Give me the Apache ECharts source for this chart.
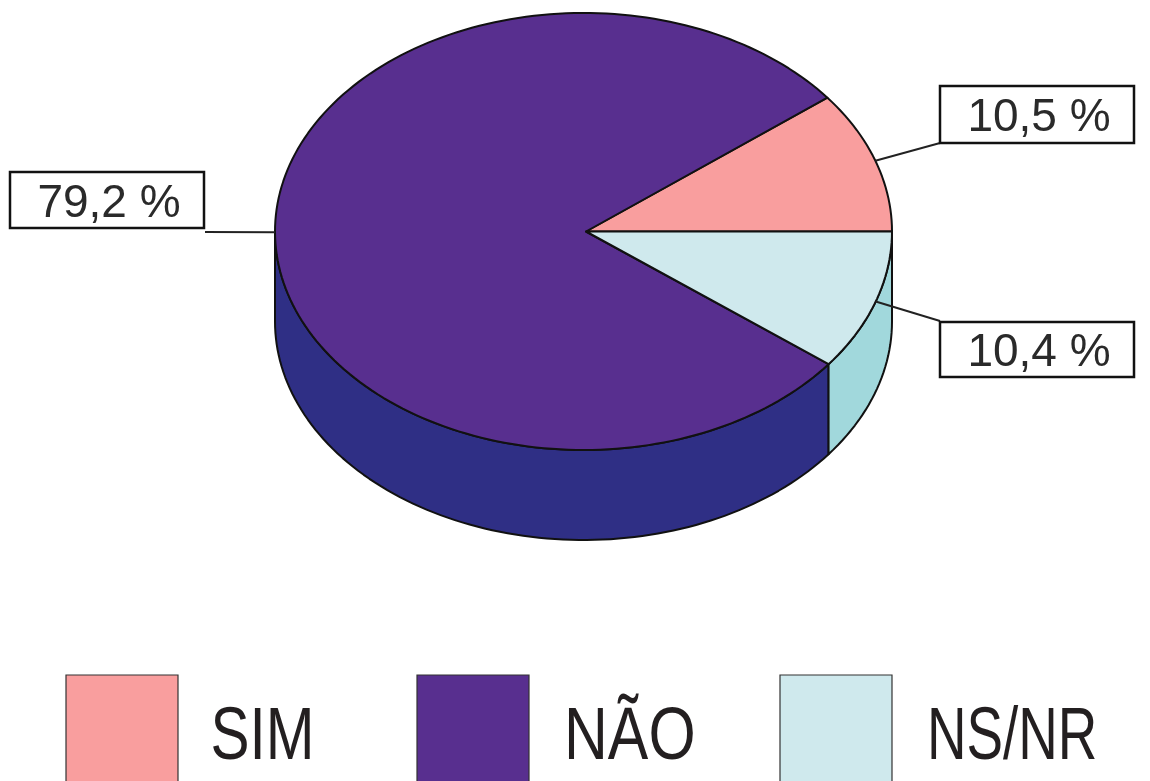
<!DOCTYPE html>
<html><head><meta charset="utf-8">
<style>html,body{margin:0;padding:0;background:#fff}#c{width:1150px;height:781px}</style>
<script src="https://cdn.jsdelivr.net/npm/echarts@6/dist/echarts.min.js"></script>
</head><body><div id="c"></div>
<script>
const categories = ['SIM', 'NÃO', 'NS/NR'];
const values = [10.5, 79.2, 10.4];
const valueLabels = ['10,5 %', '79,2 %', '10,4 %'];
const topColors = ['#F99E9E', '#582F8F', '#CFE9ED'];
const sideColors = ['#E88888', '#2F2F85', '#A1D8DC'];

const pie = {cx: 583.5, cy: 231.5, rx: 308.5, ry: 218.5, depth: 90, apexX: 586};
const boxes = [
  {x: 940, y: 86, w: 194, h: 57, lx: 940, ly: 143},
  {x: 10, y: 172, w: 194, h: 56, lx: 205, ly: 232},
  {x: 940, y: 322, w: 194, h: 55, lx: 940, ly: 321}
];
const legendKeys = [
  {x: 66, tx: 210.5, sx: 0.78},
  {x: 417, tx: 564, sx: 0.81},
  {x: 780, tx: 927, sx: 0.73}
];
const total = values.reduce((a, b) => a + b, 0);
const pt = (deg, dy) => [
  pie.cx + pie.rx * Math.cos(deg * Math.PI / 180),
  pie.cy - pie.ry * Math.sin(deg * Math.PI / 180) + (dy || 0)
];
const arc = (a, b, dy) => {
  const n = Math.max(2, Math.ceil(Math.abs(b - a) / 1.5)), out = [];
  for (let i = 0; i <= n; i++) out.push(pt(a + (b - a) * i / n, dy));
  return out;
};
function renderSlice(params, api) {
  const i = params.dataIndex;
  let start = 0;
  for (let k = 0; k < i; k++) start += values[k] / total * 360;
  const end = start + api.value(0) / total * 360;
  const children = [];
  const a = Math.max(start, 180), b = Math.min(end, 360);
  if (b > a) {
    children.push({type: 'polygon',
      shape: {points: arc(a, b, 0).concat(arc(b, a, pie.depth))},
      style: {fill: sideColors[i], stroke: '#111', lineWidth: 2, lineJoin: 'round'}});
  }
  children.push({type: 'polygon',
    shape: {points: [[pie.apexX, pie.cy]].concat(arc(start, end, 0))},
    style: {fill: topColors[i], stroke: '#111', lineWidth: 2, lineJoin: 'round'}});
  const box = boxes[i], mid = pt((start + end) / 2);
  children.push({type: 'line',
    shape: {x1: mid[0], y1: mid[1], x2: box.lx, y2: box.ly},
    style: {stroke: '#222', lineWidth: 2}});
  children.push({type: 'rect',
    shape: {x: box.x, y: box.y, width: box.w, height: box.h},
    style: {fill: '#fff', stroke: '#111', lineWidth: 2.5}});
  children.push({type: 'text',
    style: {text: valueLabels[i], x: box.x + box.w / 2 + 2, y: box.y + box.h / 2 + 4,
      align: 'center', verticalAlign: 'middle', fill: '#2a2a2a',
      fontFamily: 'Liberation Sans', fontSize: 46}});
  return {type: 'group', children};
}
const legendGraphics = [];
categories.forEach((name, i) => {
  const k = legendKeys[i];
  legendGraphics.push({type: 'rect', shape: {x: k.x, y: 675, width: 112, height: 112},
    style: {fill: topColors[i], stroke: '#333', lineWidth: 1.2}});
  legendGraphics.push({type: 'text', x: k.tx, y: 738, scaleX: k.sx, originX: 0, originY: 0,
    style: {text: name, x: 0, y: 0, align: 'left', verticalAlign: 'middle',
      fill: '#231f20', fontFamily: 'Liberation Sans', fontSize: 75}});
});
const chart = echarts.init(document.getElementById('c'));
chart.setOption({
  animation: false,
  backgroundColor: '#fff',
  graphic: {elements: legendGraphics},
  series: [{
    type: 'custom', coordinateSystem: 'none', silent: true,
    renderItem: renderSlice,
    data: categories.map((name, i) => ({name, value: [values[i]]}))
  }]
});
</script></body></html>
